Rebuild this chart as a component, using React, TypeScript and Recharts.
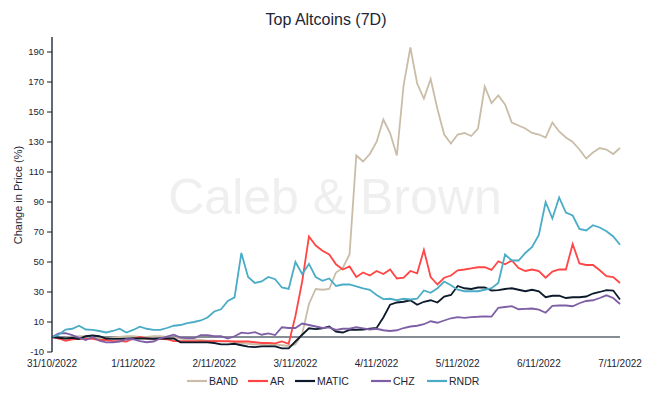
import React from 'react';
import { LineChart, Line, XAxis, YAxis, ReferenceLine } from 'recharts';

// x categories: one sample every 2 hours, 31/10/2022 00:00 -> 7/11/2022 00:00
const dateLabels = ['31/10/2022', '1/11/2022', '2/11/2022', '3/11/2022', '4/11/2022', '5/11/2022', '6/11/2022', '7/11/2022'];
const yTicks = [-10, 10, 30, 50, 70, 90, 110, 130, 150, 170, 190];
const xTicks = [0, 24, 48, 72, 96, 120, 144, 168];

const BAND = [
  0, -1, -0.5, 0, 0.5, 0.5, -0.5, -1, -1, -0.5,
  0, 0.5, 0.5, 0, 0, 0.5, 0.5, 0, -0.5, -1,
  -1.5, -1.5, -2, -2.5, -2.5, -3, -3, -3.5, -4, -4.5,
  -5, -5, -5.5, -5, -5.5, -6, -5, 2, 22, 32,
  31.5, 32, 43, 46, 55, 121, 117, 122, 130, 145,
  136, 121, 168, 193, 169, 159, 172, 152, 135, 129,
  135, 136, 134, 139, 167, 156, 161, 155, 143, 141,
  139, 136, 135, 133, 143, 137, 133, 130, 125, 119,
  123, 126, 125, 122, 126,
];
const AR = [
  0, -1, -2.5, -1.5, -1.3, -1.3, -1.3, -2, -2, -2.7,
  -2.7, -3, -1, 0, -1, -1.3, -1.3, -1.5, -2.7, -2.7,
  -2.7, -2.7, -2.7, -2.7, -2.7, -2.7, -2.7, -3, -3, -3,
  -3.5, -4, -4, -4.2, -3, -4.5, 14, 37, 67, 61,
  57.5, 55, 48.5, 45, 47, 40, 43, 41, 44, 42,
  45, 39, 39.5, 44, 42.5, 58, 40, 35, 39.5, 41,
  44.5, 45, 45.8, 46.5, 46.5, 44.7, 50.5, 48.5, 51, 46,
  44, 45, 44, 39.5, 43.6, 45, 45, 62, 49, 48,
  48, 44.5, 40.5, 40, 36,
];
const MATIC = [
  0, -0.5, -1, -0.5, -1.3, 0.5, 1, 0.5, -1, -1.3,
  -1.3, -1.3, -1, -1, -1, -1.2, -1, -1, -1, -3.6,
  -3.6, -3.6, -3.6, -3.6, -4, -4.9, -4.9, -4.5, -5.5, -6.4,
  -6.8, -6.2, -6.2, -6.2, -7.6, -7.6, -3, 1.5, 5.8, 5.3,
  5.8, 7, 3.6, 3, 4.7, 4.7, 5, 5.5, 6, 13,
  21.5, 23, 23.5, 24.5, 21.5, 23.5, 24.5, 23, 27, 28,
  34, 32.5, 32, 33, 33, 31, 31.3, 32, 32.5, 31.5,
  30.5, 31.5, 30.5, 26.5, 27.5, 27.5, 26, 26.5, 26.5, 27,
  29, 30, 31.3, 31, 25,
];
const CHZ = [
  0, 2.4, 2.5, 1.3, -0.5, -2, 0, -2.5, -3.6, -3.6,
  -3, -1.5, -1.5, -2.7, -3.5, -3, -1, 0.2, 1.5, -0.4,
  -0.7, -0.8, 1.3, 1.3, 0.5, 0.5, -1, 0.5, 2.9, 2.4,
  3.2, 1.5, 2.4, 1.3, 6.5, 6, 6, 9, 8, 7,
  6, 6.4, 4.7, 5.5, 5.5, 6.5, 5.8, 5, 5.5, 4.5,
  4, 4.5, 6, 7, 7.5, 8.5, 10.5, 9.5, 11, 12.5,
  13.3, 12.8, 13.3, 13.5, 13.8, 13.6, 19.5, 20, 20.5, 18.5,
  18.8, 19, 18.2, 16.2, 20.7, 21, 21, 20.5, 22.5, 24,
  24.5, 26, 27.8, 26, 22,
];
const RNDR = [
  0, 1.5, 5, 5.5, 7.5, 5, 4.7, 4, 3, 4,
  5.5, 3, 4.7, 6.9, 5.5, 4.7, 4.7, 6, 7.5, 8,
  9.3, 10, 11, 13, 17, 18.5, 24, 26.4, 56, 40,
  36, 37, 40, 38.5, 33, 32, 50, 42, 48.7, 40,
  37.5, 39, 34, 35, 35, 33.8, 32.4, 31.5, 28, 25.3,
  25.5, 24.5, 25.5, 25, 25.5, 31, 29.5, 32.5, 37, 34.5,
  31.5, 30.5, 30.5, 30.5, 31.5, 32.5, 36, 55, 51, 51,
  56, 60, 68, 90, 79, 93, 83, 81, 72, 71,
  74.5, 73, 70.5, 67, 61.5,
];

const seriesNames = ['BAND', 'AR', 'MATIC', 'CHZ', 'RNDR'];
const seriesValues = [BAND, AR, MATIC, CHZ, RNDR];
const hours = BAND.map((_, i) => i * 2);

const data = hours.map((h, i) => {
  const row: Record<string, number> = { h };
  seriesNames.forEach((n, k) => {
    row[n] = seriesValues[k][i];
  });
  return row;
});

const COLORS: Record<string, string> = {
  BAND: '#c9bda8',
  AR: '#ff4545',
  MATIC: '#0c1a2b',
  CHZ: '#7e5fa6',
  RNDR: '#4aacc6',
};

const TEXT = '#1c2634';
const AXIS = '#0d1b2a';
const FONT = '"Liberation Sans", Arial, sans-serif';

const XTick = (props: any) => {
  const { x, y, payload } = props;
  const idx = Math.round(payload.value / 24);
  return (
    <text x={x} y={y + 15} textAnchor="middle" fontSize={10} fill={TEXT} fontFamily={FONT}>
      {dateLabels[idx]}
    </text>
  );
};

// legend layout
const legendItemWidths = [50, 36, 65, 45, 52];

export default function App() {
  let lx = 187;
  const legendItems = seriesNames.map((n, i) => {
    const item = { name: n, x: lx };
    lx += legendItemWidths[i] + 11;
    return item;
  });
  return (
    <div style={{ position: 'relative', width: 649, height: 396, background: '#fff' }}>
      <style>{'body{margin:0}'}</style>
      <svg width={649} height={396} style={{ position: 'absolute', left: 0, top: 0 }}>
        <text x={326} y={25} textAnchor="middle" fontSize={16} fill={TEXT} fontFamily={FONT}>
          Top Altcoins (7D)
        </text>
        <text x={335} y={214} textAnchor="middle" fontSize={50} fill="#efefef" fontFamily={FONT}>
          Caleb &amp; Brown
        </text>
        <text
          transform="translate(22,195) rotate(-90)"
          textAnchor="middle"
          fontSize={11}
          fill={TEXT}
          fontFamily={FONT}
        >
          Change in Price (%)
        </text>
        {legendItems.map((it) => (
          <g key={it.name}>
            <line x1={it.x} x2={it.x + 20} y1={381} y2={381} stroke={COLORS[it.name]} strokeWidth={2.2} />
            <text x={it.x + 22} y={385} fontSize={10.5} fill={TEXT} fontFamily={FONT}>
              {it.name}
            </text>
          </g>
        ))}
      </svg>
      <div style={{ position: 'absolute', left: 0, top: 0 }}>
        <LineChart width={649} height={396} data={data} margin={{ top: 37, right: 29, bottom: 0, left: 0 }}>
          <XAxis
            dataKey="h"
            type="number"
            domain={[0, 168]}
            ticks={xTicks}
            axisLine={false}
            tickLine={false}
            tickSize={0}
            tickMargin={0}
            height={44}
            tick={<XTick />}
            interval={0}
          />
          <YAxis
            domain={[-10, 200]}
            ticks={yTicks}
            width={52}
            tickSize={5}
            tickMargin={3}
            axisLine={{ stroke: AXIS, strokeWidth: 1.3 }}
            tickLine={{ stroke: AXIS, strokeWidth: 1 }}
            tick={{ fontSize: 9.5, fill: TEXT, fontFamily: FONT }}
            interval={0}
          />
          <ReferenceLine y={0} stroke={AXIS} strokeWidth={1.2} />
          {seriesNames.map((n) => (
            <Line
              key={n}
              type="linear"
              dataKey={n}
              stroke={COLORS[n]}
              strokeWidth={1.8}
              dot={false}
              activeDot={false}
              isAnimationActive={false}
            />
          ))}
        </LineChart>
      </div>
    </div>
  );
}
